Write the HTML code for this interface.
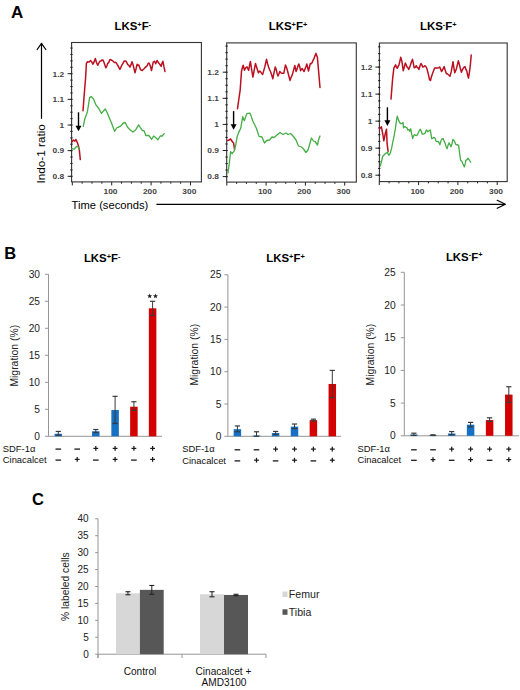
<!DOCTYPE html>
<html><head><meta charset="utf-8"><style>
html,body{margin:0;padding:0;background:#fff;}
svg{display:block;font-family:"Liberation Sans", sans-serif;}
</style></head><body>
<svg width="520" height="690" viewBox="0 0 520 690">
<rect width="520" height="690" fill="#fff"/>
<text x="11.00" y="17.50" font-size="17" text-anchor="start" font-weight="bold" fill="#000" >A</text>
<text x="132.80" y="30.10" font-size="11.4" font-weight="bold" text-anchor="middle">LKS<tspan font-size="7.4" dy="-3.4">+</tspan><tspan dy="3.4">F</tspan><tspan font-size="7.4" dy="-3.4">-</tspan></text>
<text x="288.00" y="30.10" font-size="11.4" font-weight="bold" text-anchor="middle">LKS<tspan font-size="7.4" dy="-3.4">+</tspan><tspan dy="3.4">F</tspan><tspan font-size="7.4" dy="-3.4">+</tspan></text>
<text x="438.30" y="30.10" font-size="11.4" font-weight="bold" text-anchor="middle">LKS<tspan font-size="7.4" dy="-3.4">-</tspan><tspan dy="3.4">F</tspan><tspan font-size="7.4" dy="-3.4">+</tspan></text>
<rect x="71.60" y="42.50" width="129.80" height="139.40" fill="none" stroke="#333" stroke-width="1.1"/>
<line x1="67.60" y1="73.70" x2="71.60" y2="73.70" stroke="#222" stroke-width="1" />
<text transform="translate(64.20,76.50) scale(1,0.78)" font-size="8.4" text-anchor="end" font-weight="bold" fill="#444">1.2</text>
<line x1="67.60" y1="99.35" x2="71.60" y2="99.35" stroke="#222" stroke-width="1" />
<text transform="translate(64.20,102.15) scale(1,0.78)" font-size="8.4" text-anchor="end" font-weight="bold" fill="#444">1.1</text>
<line x1="67.60" y1="125.00" x2="71.60" y2="125.00" stroke="#222" stroke-width="1" />
<text transform="translate(64.20,127.80) scale(1,0.78)" font-size="8.4" text-anchor="end" font-weight="bold" fill="#444">1</text>
<line x1="67.60" y1="150.65" x2="71.60" y2="150.65" stroke="#222" stroke-width="1" />
<text transform="translate(64.20,153.45) scale(1,0.78)" font-size="8.4" text-anchor="end" font-weight="bold" fill="#444">0.9</text>
<line x1="67.60" y1="176.30" x2="71.60" y2="176.30" stroke="#222" stroke-width="1" />
<text transform="translate(64.20,179.10) scale(1,0.78)" font-size="8.4" text-anchor="end" font-weight="bold" fill="#444">0.8</text>
<line x1="70.30" y1="176.30" x2="72.60" y2="176.30" stroke="#222" stroke-width="1.1" />
<line x1="70.30" y1="169.89" x2="72.60" y2="169.89" stroke="#222" stroke-width="1.1" />
<line x1="70.30" y1="163.47" x2="72.60" y2="163.47" stroke="#222" stroke-width="1.1" />
<line x1="70.30" y1="157.06" x2="72.60" y2="157.06" stroke="#222" stroke-width="1.1" />
<line x1="70.30" y1="150.65" x2="72.60" y2="150.65" stroke="#222" stroke-width="1.1" />
<line x1="70.30" y1="144.24" x2="72.60" y2="144.24" stroke="#222" stroke-width="1.1" />
<line x1="70.30" y1="137.82" x2="72.60" y2="137.82" stroke="#222" stroke-width="1.1" />
<line x1="70.30" y1="131.41" x2="72.60" y2="131.41" stroke="#222" stroke-width="1.1" />
<line x1="70.30" y1="125.00" x2="72.60" y2="125.00" stroke="#222" stroke-width="1.1" />
<line x1="70.30" y1="118.59" x2="72.60" y2="118.59" stroke="#222" stroke-width="1.1" />
<line x1="70.30" y1="112.17" x2="72.60" y2="112.17" stroke="#222" stroke-width="1.1" />
<line x1="70.30" y1="105.76" x2="72.60" y2="105.76" stroke="#222" stroke-width="1.1" />
<line x1="70.30" y1="99.35" x2="72.60" y2="99.35" stroke="#222" stroke-width="1.1" />
<line x1="70.30" y1="92.94" x2="72.60" y2="92.94" stroke="#222" stroke-width="1.1" />
<line x1="70.30" y1="86.53" x2="72.60" y2="86.53" stroke="#222" stroke-width="1.1" />
<line x1="70.30" y1="80.11" x2="72.60" y2="80.11" stroke="#222" stroke-width="1.1" />
<line x1="70.30" y1="73.70" x2="72.60" y2="73.70" stroke="#222" stroke-width="1.1" />
<line x1="70.30" y1="67.29" x2="72.60" y2="67.29" stroke="#222" stroke-width="1.1" />
<line x1="70.30" y1="60.88" x2="72.60" y2="60.88" stroke="#222" stroke-width="1.1" />
<line x1="70.30" y1="54.46" x2="72.60" y2="54.46" stroke="#222" stroke-width="1.1" />
<line x1="70.30" y1="48.05" x2="72.60" y2="48.05" stroke="#222" stroke-width="1.1" />
<line x1="72.30" y1="181.90" x2="72.30" y2="185.40" stroke="#222" stroke-width="1" />
<line x1="82.15" y1="181.90" x2="82.15" y2="183.70" stroke="#222" stroke-width="1" />
<line x1="92.00" y1="181.90" x2="92.00" y2="183.70" stroke="#222" stroke-width="1" />
<line x1="101.85" y1="181.90" x2="101.85" y2="183.70" stroke="#222" stroke-width="1" />
<line x1="111.70" y1="181.90" x2="111.70" y2="185.40" stroke="#222" stroke-width="1" />
<text transform="translate(110.50,193.90) scale(1,0.78)" font-size="8.4" text-anchor="middle" font-weight="bold" fill="#444">100</text>
<line x1="121.55" y1="181.90" x2="121.55" y2="183.70" stroke="#222" stroke-width="1" />
<line x1="131.40" y1="181.90" x2="131.40" y2="183.70" stroke="#222" stroke-width="1" />
<line x1="141.25" y1="181.90" x2="141.25" y2="183.70" stroke="#222" stroke-width="1" />
<line x1="151.10" y1="181.90" x2="151.10" y2="185.40" stroke="#222" stroke-width="1" />
<text transform="translate(149.90,193.90) scale(1,0.78)" font-size="8.4" text-anchor="middle" font-weight="bold" fill="#444">200</text>
<line x1="160.95" y1="181.90" x2="160.95" y2="183.70" stroke="#222" stroke-width="1" />
<line x1="170.80" y1="181.90" x2="170.80" y2="183.70" stroke="#222" stroke-width="1" />
<line x1="180.65" y1="181.90" x2="180.65" y2="183.70" stroke="#222" stroke-width="1" />
<line x1="190.50" y1="181.90" x2="190.50" y2="185.40" stroke="#222" stroke-width="1" />
<text transform="translate(189.30,193.90) scale(1,0.78)" font-size="8.4" text-anchor="middle" font-weight="bold" fill="#444">300</text>
<rect x="226.70" y="42.90" width="129.60" height="139.20" fill="none" stroke="#333" stroke-width="1.1"/>
<line x1="222.70" y1="72.20" x2="226.70" y2="72.20" stroke="#222" stroke-width="1" />
<text transform="translate(219.00,75.00) scale(1,0.78)" font-size="8.4" text-anchor="end" font-weight="bold" fill="#444">1.2</text>
<line x1="222.70" y1="98.30" x2="226.70" y2="98.30" stroke="#222" stroke-width="1" />
<text transform="translate(219.00,101.10) scale(1,0.78)" font-size="8.4" text-anchor="end" font-weight="bold" fill="#444">1.1</text>
<line x1="222.70" y1="124.40" x2="226.70" y2="124.40" stroke="#222" stroke-width="1" />
<text transform="translate(219.00,127.20) scale(1,0.78)" font-size="8.4" text-anchor="end" font-weight="bold" fill="#444">1</text>
<line x1="222.70" y1="150.50" x2="226.70" y2="150.50" stroke="#222" stroke-width="1" />
<text transform="translate(219.00,153.30) scale(1,0.78)" font-size="8.4" text-anchor="end" font-weight="bold" fill="#444">0.9</text>
<line x1="222.70" y1="176.60" x2="226.70" y2="176.60" stroke="#222" stroke-width="1" />
<text transform="translate(219.00,179.40) scale(1,0.78)" font-size="8.4" text-anchor="end" font-weight="bold" fill="#444">0.8</text>
<line x1="225.40" y1="176.60" x2="227.70" y2="176.60" stroke="#222" stroke-width="1.1" />
<line x1="225.40" y1="170.07" x2="227.70" y2="170.07" stroke="#222" stroke-width="1.1" />
<line x1="225.40" y1="163.55" x2="227.70" y2="163.55" stroke="#222" stroke-width="1.1" />
<line x1="225.40" y1="157.02" x2="227.70" y2="157.02" stroke="#222" stroke-width="1.1" />
<line x1="225.40" y1="150.50" x2="227.70" y2="150.50" stroke="#222" stroke-width="1.1" />
<line x1="225.40" y1="143.97" x2="227.70" y2="143.97" stroke="#222" stroke-width="1.1" />
<line x1="225.40" y1="137.45" x2="227.70" y2="137.45" stroke="#222" stroke-width="1.1" />
<line x1="225.40" y1="130.92" x2="227.70" y2="130.92" stroke="#222" stroke-width="1.1" />
<line x1="225.40" y1="124.40" x2="227.70" y2="124.40" stroke="#222" stroke-width="1.1" />
<line x1="225.40" y1="117.87" x2="227.70" y2="117.87" stroke="#222" stroke-width="1.1" />
<line x1="225.40" y1="111.35" x2="227.70" y2="111.35" stroke="#222" stroke-width="1.1" />
<line x1="225.40" y1="104.82" x2="227.70" y2="104.82" stroke="#222" stroke-width="1.1" />
<line x1="225.40" y1="98.30" x2="227.70" y2="98.30" stroke="#222" stroke-width="1.1" />
<line x1="225.40" y1="91.78" x2="227.70" y2="91.78" stroke="#222" stroke-width="1.1" />
<line x1="225.40" y1="85.25" x2="227.70" y2="85.25" stroke="#222" stroke-width="1.1" />
<line x1="225.40" y1="78.73" x2="227.70" y2="78.73" stroke="#222" stroke-width="1.1" />
<line x1="225.40" y1="72.20" x2="227.70" y2="72.20" stroke="#222" stroke-width="1.1" />
<line x1="225.40" y1="65.68" x2="227.70" y2="65.68" stroke="#222" stroke-width="1.1" />
<line x1="225.40" y1="59.15" x2="227.70" y2="59.15" stroke="#222" stroke-width="1.1" />
<line x1="225.40" y1="52.63" x2="227.70" y2="52.63" stroke="#222" stroke-width="1.1" />
<line x1="225.40" y1="46.10" x2="227.70" y2="46.10" stroke="#222" stroke-width="1.1" />
<line x1="226.80" y1="182.10" x2="226.80" y2="185.60" stroke="#222" stroke-width="1" />
<line x1="236.62" y1="182.10" x2="236.62" y2="183.90" stroke="#222" stroke-width="1" />
<line x1="246.45" y1="182.10" x2="246.45" y2="183.90" stroke="#222" stroke-width="1" />
<line x1="256.28" y1="182.10" x2="256.28" y2="183.90" stroke="#222" stroke-width="1" />
<line x1="266.10" y1="182.10" x2="266.10" y2="185.60" stroke="#222" stroke-width="1" />
<text transform="translate(264.90,194.10) scale(1,0.78)" font-size="8.4" text-anchor="middle" font-weight="bold" fill="#444">100</text>
<line x1="275.93" y1="182.10" x2="275.93" y2="183.90" stroke="#222" stroke-width="1" />
<line x1="285.75" y1="182.10" x2="285.75" y2="183.90" stroke="#222" stroke-width="1" />
<line x1="295.58" y1="182.10" x2="295.58" y2="183.90" stroke="#222" stroke-width="1" />
<line x1="305.40" y1="182.10" x2="305.40" y2="185.60" stroke="#222" stroke-width="1" />
<text transform="translate(304.20,194.10) scale(1,0.78)" font-size="8.4" text-anchor="middle" font-weight="bold" fill="#444">200</text>
<line x1="315.23" y1="182.10" x2="315.23" y2="183.90" stroke="#222" stroke-width="1" />
<line x1="325.05" y1="182.10" x2="325.05" y2="183.90" stroke="#222" stroke-width="1" />
<line x1="334.88" y1="182.10" x2="334.88" y2="183.90" stroke="#222" stroke-width="1" />
<line x1="344.70" y1="182.10" x2="344.70" y2="185.60" stroke="#222" stroke-width="1" />
<text transform="translate(343.50,194.10) scale(1,0.78)" font-size="8.4" text-anchor="middle" font-weight="bold" fill="#444">300</text>
<rect x="379.40" y="43.00" width="127.80" height="138.60" fill="none" stroke="#333" stroke-width="1.1"/>
<line x1="375.40" y1="67.10" x2="379.40" y2="67.10" stroke="#222" stroke-width="1" />
<text transform="translate(372.30,69.90) scale(1,0.78)" font-size="8.4" text-anchor="end" font-weight="bold" fill="#444">1.2</text>
<line x1="375.40" y1="94.12" x2="379.40" y2="94.12" stroke="#222" stroke-width="1" />
<text transform="translate(372.30,96.92) scale(1,0.78)" font-size="8.4" text-anchor="end" font-weight="bold" fill="#444">1.1</text>
<line x1="375.40" y1="121.15" x2="379.40" y2="121.15" stroke="#222" stroke-width="1" />
<text transform="translate(372.30,123.95) scale(1,0.78)" font-size="8.4" text-anchor="end" font-weight="bold" fill="#444">1</text>
<line x1="375.40" y1="148.17" x2="379.40" y2="148.17" stroke="#222" stroke-width="1" />
<text transform="translate(372.30,150.97) scale(1,0.78)" font-size="8.4" text-anchor="end" font-weight="bold" fill="#444">0.9</text>
<line x1="375.40" y1="175.20" x2="379.40" y2="175.20" stroke="#222" stroke-width="1" />
<text transform="translate(372.30,178.00) scale(1,0.78)" font-size="8.4" text-anchor="end" font-weight="bold" fill="#444">0.8</text>
<line x1="378.10" y1="175.20" x2="380.40" y2="175.20" stroke="#222" stroke-width="1.1" />
<line x1="378.10" y1="168.44" x2="380.40" y2="168.44" stroke="#222" stroke-width="1.1" />
<line x1="378.10" y1="161.69" x2="380.40" y2="161.69" stroke="#222" stroke-width="1.1" />
<line x1="378.10" y1="154.93" x2="380.40" y2="154.93" stroke="#222" stroke-width="1.1" />
<line x1="378.10" y1="148.17" x2="380.40" y2="148.17" stroke="#222" stroke-width="1.1" />
<line x1="378.10" y1="141.42" x2="380.40" y2="141.42" stroke="#222" stroke-width="1.1" />
<line x1="378.10" y1="134.66" x2="380.40" y2="134.66" stroke="#222" stroke-width="1.1" />
<line x1="378.10" y1="127.91" x2="380.40" y2="127.91" stroke="#222" stroke-width="1.1" />
<line x1="378.10" y1="121.15" x2="380.40" y2="121.15" stroke="#222" stroke-width="1.1" />
<line x1="378.10" y1="114.39" x2="380.40" y2="114.39" stroke="#222" stroke-width="1.1" />
<line x1="378.10" y1="107.64" x2="380.40" y2="107.64" stroke="#222" stroke-width="1.1" />
<line x1="378.10" y1="100.88" x2="380.40" y2="100.88" stroke="#222" stroke-width="1.1" />
<line x1="378.10" y1="94.13" x2="380.40" y2="94.13" stroke="#222" stroke-width="1.1" />
<line x1="378.10" y1="87.37" x2="380.40" y2="87.37" stroke="#222" stroke-width="1.1" />
<line x1="378.10" y1="80.61" x2="380.40" y2="80.61" stroke="#222" stroke-width="1.1" />
<line x1="378.10" y1="73.86" x2="380.40" y2="73.86" stroke="#222" stroke-width="1.1" />
<line x1="378.10" y1="67.10" x2="380.40" y2="67.10" stroke="#222" stroke-width="1.1" />
<line x1="378.10" y1="60.34" x2="380.40" y2="60.34" stroke="#222" stroke-width="1.1" />
<line x1="378.10" y1="53.59" x2="380.40" y2="53.59" stroke="#222" stroke-width="1.1" />
<line x1="378.10" y1="46.83" x2="380.40" y2="46.83" stroke="#222" stroke-width="1.1" />
<line x1="379.30" y1="181.60" x2="379.30" y2="185.10" stroke="#222" stroke-width="1" />
<line x1="389.12" y1="181.60" x2="389.12" y2="183.40" stroke="#222" stroke-width="1" />
<line x1="398.95" y1="181.60" x2="398.95" y2="183.40" stroke="#222" stroke-width="1" />
<line x1="408.78" y1="181.60" x2="408.78" y2="183.40" stroke="#222" stroke-width="1" />
<line x1="418.60" y1="181.60" x2="418.60" y2="185.10" stroke="#222" stroke-width="1" />
<text transform="translate(417.40,193.60) scale(1,0.78)" font-size="8.4" text-anchor="middle" font-weight="bold" fill="#444">100</text>
<line x1="428.43" y1="181.60" x2="428.43" y2="183.40" stroke="#222" stroke-width="1" />
<line x1="438.25" y1="181.60" x2="438.25" y2="183.40" stroke="#222" stroke-width="1" />
<line x1="448.08" y1="181.60" x2="448.08" y2="183.40" stroke="#222" stroke-width="1" />
<line x1="457.90" y1="181.60" x2="457.90" y2="185.10" stroke="#222" stroke-width="1" />
<text transform="translate(456.70,193.60) scale(1,0.78)" font-size="8.4" text-anchor="middle" font-weight="bold" fill="#444">200</text>
<line x1="467.73" y1="181.60" x2="467.73" y2="183.40" stroke="#222" stroke-width="1" />
<line x1="477.55" y1="181.60" x2="477.55" y2="183.40" stroke="#222" stroke-width="1" />
<line x1="487.38" y1="181.60" x2="487.38" y2="183.40" stroke="#222" stroke-width="1" />
<line x1="497.20" y1="181.60" x2="497.20" y2="185.10" stroke="#222" stroke-width="1" />
<text transform="translate(496.00,193.60) scale(1,0.78)" font-size="8.4" text-anchor="middle" font-weight="bold" fill="#444">300</text>
<polyline points="71.80,142.20 73.30,140.00 74.90,141.10 76.00,139.50 77.60,143.30 79.20,148.70 80.30,159.60" fill="none" stroke="#bb1020" stroke-width="1.5" stroke-linejoin="round" stroke-linecap="round" />
<polyline points="71.80,148.70 74.30,149.20 76.50,146.50 78.20,147.00 79.20,149.20" fill="none" stroke="#44ad44" stroke-width="1.3" stroke-linejoin="round" stroke-linecap="round" />
<polyline points="83.00,110.70 84.20,95.00 85.60,77.80 86.40,63.30 87.60,61.70 88.40,62.01 89.20,62.10 90.50,60.50 91.70,61.87 92.90,64.10 94.10,61.95 95.30,58.50 96.50,62.49 97.70,65.30 98.75,63.25 99.80,61.30 100.87,61.13 101.93,60.10 103.00,60.10 103.93,62.28 104.87,64.94 105.80,67.80 106.80,66.04 107.80,63.35 108.80,62.38 109.80,59.70 110.72,59.60 111.65,60.27 112.58,60.62 113.50,61.70 114.43,62.48 115.37,62.31 116.30,62.90 117.20,64.49 118.10,65.91 119.00,67.97 119.90,69.40 120.87,67.37 121.83,65.19 122.80,63.70 124.00,61.30 124.85,61.00 125.70,60.90 126.75,62.53 127.80,64.70 128.85,65.41 129.90,67.20 130.95,64.90 132.00,61.70 133.30,65.50 134.15,69.35 135.00,72.70 136.05,68.73 137.10,64.30 137.95,65.24 138.80,65.10 139.65,67.30 140.50,69.80 141.35,70.03 142.20,70.60 143.25,69.44 144.30,68.50 145.35,67.32 146.40,66.40 147.27,65.50 148.13,63.44 149.00,63.00 150.20,65.50 151.50,70.60 152.35,66.35 153.20,62.20 154.50,61.30 155.70,63.80 157.00,60.50 157.85,61.80 158.70,63.00 159.95,64.48 161.20,66.40 162.05,63.18 162.90,61.30 163.95,66.69 165.00,71.50" fill="none" stroke="#bb1020" stroke-width="1.5" stroke-linejoin="round" stroke-linecap="round" />
<polyline points="83.30,126.40 84.70,119.30 87.40,111.70 89.60,97.60 91.20,96.50 93.40,98.70 96.10,105.20 98.80,108.50 101.50,113.40 103.70,110.70 105.30,109.00 107.50,113.40 111.30,122.60 114.60,131.30 116.70,128.00 118.00,127.30 120.90,125.90 123.30,123.00 125.20,122.50 127.60,127.30 130.00,129.70 132.90,132.10 135.80,129.70 138.70,124.90 141.10,128.75 142.50,130.70 144.00,130.70 145.90,135.50 148.80,135.50 151.70,139.30 153.60,136.00 155.50,137.40 157.90,139.80 160.30,136.00 162.20,136.00 164.20,133.60" fill="none" stroke="#44ad44" stroke-width="1.3" stroke-linejoin="round" stroke-linecap="round" />
<polyline points="227.50,140.50 229.00,140.00 230.60,139.00 232.60,142.00 233.60,143.00 234.60,149.60" fill="none" stroke="#bb1020" stroke-width="1.5" stroke-linejoin="round" stroke-linecap="round" />
<polyline points="237.50,108.70 238.25,103.35 239.00,98.00 240.20,89.80 241.50,71.20 242.35,67.71 243.20,65.20 244.50,70.30 245.70,67.80 247.00,66.90 247.85,68.76 248.70,70.30 249.55,65.39 250.40,61.40 251.65,69.55 252.90,77.10 253.77,72.72 254.63,67.87 255.50,63.50 256.47,66.76 257.43,69.79 258.40,72.80 259.25,71.36 260.10,71.20 261.35,72.89 262.60,74.50 263.70,70.87 264.80,66.90 265.65,63.13 266.50,59.30 267.55,63.63 268.60,66.90 269.65,69.78 270.70,72.00 271.75,75.23 272.80,78.80 274.05,72.47 275.30,66.90 276.20,69.41 277.10,73.40 278.00,76.00 278.90,74.02 279.80,71.50 280.65,72.55 281.50,73.30 282.65,73.22 283.80,73.30 284.65,69.10 285.50,64.90 286.60,67.81 287.70,71.50 288.85,75.99 290.00,80.40 291.10,77.25 292.20,75.10 293.07,72.04 293.93,68.82 294.80,65.40 296.10,71.50 297.00,69.24 297.90,66.15 298.80,64.00 299.70,66.78 300.60,70.70 301.45,69.37 302.30,68.50 303.20,70.26 304.10,71.50 305.00,69.01 305.90,66.85 306.80,64.00 307.65,67.45 308.50,71.10 309.40,67.21 310.30,63.60 311.20,63.72 312.10,62.70 312.95,60.48 313.80,59.20 314.90,55.89 316.00,53.40 317.40,57.40 318.70,72.40 320.00,87.50" fill="none" stroke="#bb1020" stroke-width="1.5" stroke-linejoin="round" stroke-linecap="round" />
<polyline points="228.00,173.00 229.50,161.80 230.60,151.70 232.10,153.70 234.10,151.10 235.60,145.60 237.20,136.40 238.70,132.40 240.70,128.30 242.70,116.70 244.30,120.70 246.80,113.60 249.80,113.10 250.80,115.10 252.90,121.20 256.40,128.30 259.00,136.40 262.00,137.00 264.50,143.00 266.60,140.50 269.60,140.00 272.00,137.00 274.00,137.50 277.00,135.00 280.00,132.50 283.00,134.50 286.00,133.00 288.00,134.50 290.50,133.50 293.00,136.00 296.00,140.00 298.50,146.00 301.50,147.00 303.50,149.00 306.00,152.50 308.00,150.00 310.00,143.00 311.50,138.00 313.50,141.00 315.00,141.50 317.50,145.00 318.50,140.00 320.00,136.00" fill="none" stroke="#44ad44" stroke-width="1.3" stroke-linejoin="round" stroke-linecap="round" />
<polyline points="379.60,128.75 381.40,126.80 382.80,134.00 383.80,140.80 385.20,134.00 386.50,129.20 387.10,143.70 388.10,151.30" fill="none" stroke="#bb1020" stroke-width="1.5" stroke-linejoin="round" stroke-linecap="round" />
<polyline points="391.00,99.10 391.85,88.50 392.70,77.90 393.90,67.80 394.75,66.30 395.60,64.80 396.45,67.17 397.30,68.20 398.15,66.44 399.00,64.80 399.85,61.31 400.70,57.20 402.00,61.80 403.20,70.70 404.25,67.23 405.30,63.10 406.15,64.60 407.00,66.90 407.85,67.61 408.70,69.50 409.55,67.49 410.40,65.20 411.45,61.72 412.50,59.30 413.35,63.39 414.20,67.80 415.25,67.30 416.30,65.70 417.17,67.49 418.03,67.70 418.90,69.50 419.95,65.92 421.00,63.50 421.85,64.81 422.70,66.90 423.75,66.76 424.80,65.70 425.85,66.48 426.90,68.60 427.77,71.88 428.63,75.38 429.50,79.60 430.50,80.50 431.35,76.98 432.20,74.50 433.30,71.48 434.40,68.40 435.30,67.79 436.20,67.94 437.10,67.90 437.97,67.93 438.83,67.61 439.70,67.00 440.60,69.13 441.50,71.50 442.40,70.27 443.30,68.33 444.20,66.60 445.30,70.61 446.40,73.70 447.25,73.75 448.10,74.50 449.00,75.22 449.90,76.30 451.20,71.90 452.10,66.91 453.00,61.70 453.90,67.87 454.80,72.80 455.65,70.77 456.50,68.40 457.40,64.56 458.30,60.80 459.20,63.80 460.10,67.50 461.40,72.30 462.30,70.04 463.20,68.40 464.10,67.10 465.00,66.60 465.85,69.28 466.70,70.60 467.60,74.89 468.50,78.10 469.40,72.45 470.30,65.70 471.20,55.10" fill="none" stroke="#bb1020" stroke-width="1.5" stroke-linejoin="round" stroke-linecap="round" />
<polyline points="380.40,165.80 381.60,161.00 382.80,156.20 383.77,155.23 384.73,154.27 385.70,153.30 386.65,152.80 387.60,152.30 388.60,155.20 389.55,154.67 390.50,152.30 391.70,147.74 392.90,141.70 394.10,135.91 395.30,129.20 396.25,122.18 397.20,116.25 397.95,118.09 398.70,120.60 399.65,122.48 400.60,123.50 401.80,123.61 403.00,122.50 403.50,127.80 404.70,126.58 405.90,127.30 406.85,127.61 407.80,130.04 408.75,129.46 409.70,131.20 410.70,128.75 411.65,133.89 412.60,138.40 413.55,136.11 414.50,134.50 415.50,135.29 416.50,135.50 417.45,134.65 418.40,132.51 419.35,130.56 420.30,129.20 421.25,131.24 422.20,134.00 423.13,134.01 424.07,133.79 425.00,133.30 426.40,129.90 427.15,130.67 427.90,131.80 429.10,130.78 430.30,129.90 431.70,138.60 432.67,138.34 433.63,137.45 434.60,137.60 435.35,138.86 436.10,141.40 437.30,141.54 438.50,141.40 439.90,144.80 440.85,141.10 441.80,139.00 442.55,139.00 443.30,138.60 444.25,141.60 445.20,143.40 446.15,146.71 447.10,148.70 448.05,145.30 449.00,142.90 450.00,144.63 451.00,146.70 451.95,143.95 452.90,139.50 453.85,140.40 454.80,141.90 455.75,144.33 456.70,144.80 457.70,144.70 458.70,145.80 459.65,153.68 460.60,160.20 461.80,161.18 463.00,164.00 464.40,166.90 465.15,163.89 465.90,160.20 466.85,159.86 467.80,158.30 469.20,159.70 469.95,161.00 470.70,162.10" fill="none" stroke="#44ad44" stroke-width="1.3" stroke-linejoin="round" stroke-linecap="round" />
<line x1="78.50" y1="112.30" x2="78.50" y2="127.30" stroke="#000" stroke-width="1.4" />
<polygon points="75.50,125.70 81.50,125.70 78.50,131.30" fill="#000"/>
<line x1="233.60" y1="111.10" x2="233.60" y2="125.80" stroke="#000" stroke-width="1.4" />
<polygon points="230.60,124.20 236.60,124.20 233.60,129.80" fill="#000"/>
<line x1="387.40" y1="107.30" x2="387.40" y2="121.90" stroke="#000" stroke-width="1.4" />
<polygon points="384.40,120.30 390.40,120.30 387.40,125.90" fill="#000"/>
<line x1="41.50" y1="43.50" x2="41.50" y2="118.80" stroke="#000" stroke-width="1.2" />
<polyline points="37.20,49.50 41.50,43.30 45.80,49.50" fill="none" stroke="#000" stroke-width="1.2" stroke-linejoin="round" stroke-linecap="round" stroke-linecap="butt"/>
<text transform="translate(45.4,183.4) rotate(-90)" font-size="11.7" fill="#000">Indo-1 ratio</text>
<text x="71.60" y="208.70" font-size="11.2" text-anchor="start" font-weight="normal" fill="#000" >Time (seconds)</text>
<line x1="156.40" y1="204.30" x2="505.00" y2="204.30" stroke="#000" stroke-width="1.2" />
<polyline points="497.20,200.30 505.40,204.30 497.20,208.30" fill="none" stroke="#000" stroke-width="1.2" stroke-linejoin="round" stroke-linecap="round" stroke-linecap="butt"/>
<text x="4.30" y="259.10" font-size="16.5" text-anchor="start" font-weight="bold" fill="#000" >B</text>
<text x="102.20" y="262.40" font-size="11.4" font-weight="bold" text-anchor="middle">LKS<tspan font-size="7.4" dy="-3.4">+</tspan><tspan dy="3.4">F</tspan><tspan font-size="7.4" dy="-3.4">-</tspan></text>
<text x="285.50" y="262.40" font-size="11.4" font-weight="bold" text-anchor="middle">LKS<tspan font-size="7.4" dy="-3.4">+</tspan><tspan dy="3.4">F</tspan><tspan font-size="7.4" dy="-3.4">+</tspan></text>
<text x="464.20" y="260.80" font-size="11.4" font-weight="bold" text-anchor="middle">LKS<tspan font-size="7.4" dy="-3.4">-</tspan><tspan dy="3.4">F</tspan><tspan font-size="7.4" dy="-3.4">+</tspan></text>
<line x1="48.50" y1="274.30" x2="48.50" y2="436.30" stroke="#959595" stroke-width="1" />
<line x1="48.50" y1="436.30" x2="162.00" y2="436.30" stroke="#959595" stroke-width="1" />
<line x1="45.00" y1="436.30" x2="48.50" y2="436.30" stroke="#959595" stroke-width="1" />
<text x="40.00" y="439.90" font-size="10.2" text-anchor="end" font-weight="normal" fill="#222" >0</text>
<line x1="45.00" y1="409.30" x2="48.50" y2="409.30" stroke="#959595" stroke-width="1" />
<text x="40.00" y="412.90" font-size="10.2" text-anchor="end" font-weight="normal" fill="#222" >5</text>
<line x1="45.00" y1="382.30" x2="48.50" y2="382.30" stroke="#959595" stroke-width="1" />
<text x="40.00" y="385.90" font-size="10.2" text-anchor="end" font-weight="normal" fill="#222" >10</text>
<line x1="45.00" y1="355.30" x2="48.50" y2="355.30" stroke="#959595" stroke-width="1" />
<text x="40.00" y="358.90" font-size="10.2" text-anchor="end" font-weight="normal" fill="#222" >15</text>
<line x1="45.00" y1="328.30" x2="48.50" y2="328.30" stroke="#959595" stroke-width="1" />
<text x="40.00" y="331.90" font-size="10.2" text-anchor="end" font-weight="normal" fill="#222" >20</text>
<line x1="45.00" y1="301.30" x2="48.50" y2="301.30" stroke="#959595" stroke-width="1" />
<text x="40.00" y="304.90" font-size="10.2" text-anchor="end" font-weight="normal" fill="#222" >25</text>
<line x1="45.00" y1="274.30" x2="48.50" y2="274.30" stroke="#959595" stroke-width="1" />
<text x="40.00" y="277.90" font-size="10.2" text-anchor="end" font-weight="normal" fill="#222" >30</text>
<rect x="54.55" y="433.76" width="7.50" height="2.54" fill="#1670c4" />
<line x1="58.30" y1="431.44" x2="58.30" y2="435.22" stroke="#3a3a3a" stroke-width="1" />
<line x1="55.70" y1="431.44" x2="60.90" y2="431.44" stroke="#3a3a3a" stroke-width="1.2" />
<line x1="55.70" y1="435.22" x2="60.90" y2="435.22" stroke="#3a3a3a" stroke-width="1.2" />
<rect x="92.05" y="431.28" width="7.50" height="5.02" fill="#1670c4" />
<line x1="95.80" y1="429.50" x2="95.80" y2="432.52" stroke="#3a3a3a" stroke-width="1" />
<line x1="93.20" y1="429.50" x2="98.40" y2="429.50" stroke="#3a3a3a" stroke-width="1.2" />
<line x1="93.20" y1="432.52" x2="98.40" y2="432.52" stroke="#3a3a3a" stroke-width="1.2" />
<rect x="111.35" y="410.00" width="7.50" height="26.30" fill="#1670c4" />
<line x1="115.10" y1="396.34" x2="115.10" y2="423.50" stroke="#3a3a3a" stroke-width="1" />
<line x1="112.50" y1="396.34" x2="117.70" y2="396.34" stroke="#3a3a3a" stroke-width="1.2" />
<line x1="112.50" y1="423.50" x2="117.70" y2="423.50" stroke="#3a3a3a" stroke-width="1.2" />
<rect x="130.15" y="406.71" width="7.50" height="29.59" fill="#d40000" />
<line x1="133.90" y1="401.74" x2="133.90" y2="410.38" stroke="#3a3a3a" stroke-width="1" />
<line x1="131.30" y1="401.74" x2="136.50" y2="401.74" stroke="#3a3a3a" stroke-width="1.2" />
<line x1="131.30" y1="410.38" x2="136.50" y2="410.38" stroke="#3a3a3a" stroke-width="1.2" />
<rect x="148.85" y="308.32" width="7.50" height="127.98" fill="#d40000" />
<line x1="152.60" y1="301.30" x2="152.60" y2="315.34" stroke="#3a3a3a" stroke-width="1" />
<line x1="150.00" y1="301.30" x2="155.20" y2="301.30" stroke="#3a3a3a" stroke-width="1.2" />
<line x1="150.00" y1="315.34" x2="155.20" y2="315.34" stroke="#3a3a3a" stroke-width="1.2" />
<text transform="translate(17.60,355.70) rotate(-90)" font-size="10.4" text-anchor="middle" fill="#222">Migration (%)</text>
<polygon points="149.70,293.60 150.35,295.31 152.17,295.40 150.75,296.54 151.23,298.30 149.70,297.30 148.17,298.30 148.65,296.54 147.23,295.40 149.05,295.31" fill="#1a1a1a"/>
<polygon points="155.50,293.60 156.15,295.31 157.97,295.40 156.55,296.54 157.03,298.30 155.50,297.30 153.97,298.30 154.45,296.54 153.03,295.40 154.85,295.31" fill="#1a1a1a"/>
<line x1="227.90" y1="274.80" x2="227.90" y2="436.30" stroke="#959595" stroke-width="1" />
<line x1="227.90" y1="436.30" x2="341.00" y2="436.30" stroke="#959595" stroke-width="1" />
<line x1="224.40" y1="436.30" x2="227.90" y2="436.30" stroke="#959595" stroke-width="1" />
<text x="221.40" y="439.90" font-size="10.2" text-anchor="end" font-weight="normal" fill="#222" >0</text>
<line x1="224.40" y1="404.00" x2="227.90" y2="404.00" stroke="#959595" stroke-width="1" />
<text x="221.40" y="407.60" font-size="10.2" text-anchor="end" font-weight="normal" fill="#222" >5</text>
<line x1="224.40" y1="371.70" x2="227.90" y2="371.70" stroke="#959595" stroke-width="1" />
<text x="221.40" y="375.30" font-size="10.2" text-anchor="end" font-weight="normal" fill="#222" >10</text>
<line x1="224.40" y1="339.40" x2="227.90" y2="339.40" stroke="#959595" stroke-width="1" />
<text x="221.40" y="343.00" font-size="10.2" text-anchor="end" font-weight="normal" fill="#222" >15</text>
<line x1="224.40" y1="307.10" x2="227.90" y2="307.10" stroke="#959595" stroke-width="1" />
<text x="221.40" y="310.70" font-size="10.2" text-anchor="end" font-weight="normal" fill="#222" >20</text>
<line x1="224.40" y1="274.80" x2="227.90" y2="274.80" stroke="#959595" stroke-width="1" />
<text x="221.40" y="278.40" font-size="10.2" text-anchor="end" font-weight="normal" fill="#222" >25</text>
<rect x="233.65" y="429.19" width="7.50" height="7.11" fill="#1670c4" />
<line x1="237.40" y1="425.96" x2="237.40" y2="431.78" stroke="#3a3a3a" stroke-width="1" />
<line x1="234.80" y1="425.96" x2="240.00" y2="425.96" stroke="#3a3a3a" stroke-width="1.2" />
<line x1="234.80" y1="431.78" x2="240.00" y2="431.78" stroke="#3a3a3a" stroke-width="1.2" />
<rect x="252.75" y="435.52" width="7.50" height="0.78" fill="#1670c4" />
<line x1="256.50" y1="431.78" x2="256.50" y2="436.30" stroke="#3a3a3a" stroke-width="1" />
<line x1="253.90" y1="431.78" x2="259.10" y2="431.78" stroke="#3a3a3a" stroke-width="1.2" />
<line x1="253.90" y1="436.30" x2="259.10" y2="436.30" stroke="#3a3a3a" stroke-width="1.2" />
<rect x="271.85" y="433.07" width="7.50" height="3.23" fill="#1670c4" />
<line x1="275.60" y1="431.45" x2="275.60" y2="434.36" stroke="#3a3a3a" stroke-width="1" />
<line x1="273.00" y1="431.45" x2="278.20" y2="431.45" stroke="#3a3a3a" stroke-width="1.2" />
<line x1="273.00" y1="434.36" x2="278.20" y2="434.36" stroke="#3a3a3a" stroke-width="1.2" />
<rect x="290.75" y="426.61" width="7.50" height="9.69" fill="#1670c4" />
<line x1="294.50" y1="424.03" x2="294.50" y2="428.55" stroke="#3a3a3a" stroke-width="1" />
<line x1="291.90" y1="424.03" x2="297.10" y2="424.03" stroke="#3a3a3a" stroke-width="1.2" />
<line x1="291.90" y1="428.55" x2="297.10" y2="428.55" stroke="#3a3a3a" stroke-width="1.2" />
<rect x="309.65" y="420.15" width="7.50" height="16.15" fill="#d40000" />
<line x1="313.40" y1="419.18" x2="313.40" y2="421.12" stroke="#3a3a3a" stroke-width="1" />
<line x1="310.80" y1="419.18" x2="316.00" y2="419.18" stroke="#3a3a3a" stroke-width="1.2" />
<line x1="310.80" y1="421.12" x2="316.00" y2="421.12" stroke="#3a3a3a" stroke-width="1.2" />
<rect x="328.55" y="383.97" width="7.50" height="52.33" fill="#d40000" />
<line x1="332.30" y1="370.41" x2="332.30" y2="397.54" stroke="#3a3a3a" stroke-width="1" />
<line x1="329.70" y1="370.41" x2="334.90" y2="370.41" stroke="#3a3a3a" stroke-width="1.2" />
<line x1="329.70" y1="397.54" x2="334.90" y2="397.54" stroke="#3a3a3a" stroke-width="1.2" />
<text transform="translate(197.60,354.70) rotate(-90)" font-size="10.4" text-anchor="middle" fill="#222">Migration (%)</text>
<line x1="404.30" y1="272.30" x2="404.30" y2="435.80" stroke="#959595" stroke-width="1" />
<line x1="404.30" y1="435.80" x2="519.00" y2="435.80" stroke="#959595" stroke-width="1" />
<line x1="400.80" y1="435.80" x2="404.30" y2="435.80" stroke="#959595" stroke-width="1" />
<text x="395.60" y="439.40" font-size="10.2" text-anchor="end" font-weight="normal" fill="#222" >0</text>
<line x1="400.80" y1="403.10" x2="404.30" y2="403.10" stroke="#959595" stroke-width="1" />
<text x="395.60" y="406.70" font-size="10.2" text-anchor="end" font-weight="normal" fill="#222" >5</text>
<line x1="400.80" y1="370.40" x2="404.30" y2="370.40" stroke="#959595" stroke-width="1" />
<text x="395.60" y="374.00" font-size="10.2" text-anchor="end" font-weight="normal" fill="#222" >10</text>
<line x1="400.80" y1="337.70" x2="404.30" y2="337.70" stroke="#959595" stroke-width="1" />
<text x="395.60" y="341.30" font-size="10.2" text-anchor="end" font-weight="normal" fill="#222" >15</text>
<line x1="400.80" y1="305.00" x2="404.30" y2="305.00" stroke="#959595" stroke-width="1" />
<text x="395.60" y="308.60" font-size="10.2" text-anchor="end" font-weight="normal" fill="#222" >20</text>
<line x1="400.80" y1="272.30" x2="404.30" y2="272.30" stroke="#959595" stroke-width="1" />
<text x="395.60" y="275.90" font-size="10.2" text-anchor="end" font-weight="normal" fill="#222" >25</text>
<rect x="410.15" y="434.49" width="7.50" height="1.31" fill="#1670c4" />
<line x1="413.90" y1="433.18" x2="413.90" y2="435.47" stroke="#3a3a3a" stroke-width="1" />
<line x1="411.30" y1="433.18" x2="416.50" y2="433.18" stroke="#3a3a3a" stroke-width="1.2" />
<line x1="411.30" y1="435.47" x2="416.50" y2="435.47" stroke="#3a3a3a" stroke-width="1.2" />
<rect x="429.25" y="435.15" width="7.50" height="0.65" fill="#1670c4" />
<line x1="433.00" y1="434.82" x2="433.00" y2="435.47" stroke="#3a3a3a" stroke-width="1" />
<line x1="430.40" y1="434.82" x2="435.60" y2="434.82" stroke="#3a3a3a" stroke-width="1.2" />
<line x1="430.40" y1="435.47" x2="435.60" y2="435.47" stroke="#3a3a3a" stroke-width="1.2" />
<rect x="447.95" y="433.51" width="7.50" height="2.29" fill="#1670c4" />
<line x1="451.70" y1="431.55" x2="451.70" y2="434.82" stroke="#3a3a3a" stroke-width="1" />
<line x1="449.10" y1="431.55" x2="454.30" y2="431.55" stroke="#3a3a3a" stroke-width="1.2" />
<line x1="449.10" y1="434.82" x2="454.30" y2="434.82" stroke="#3a3a3a" stroke-width="1.2" />
<rect x="466.85" y="424.68" width="7.50" height="11.12" fill="#1670c4" />
<line x1="470.60" y1="422.39" x2="470.60" y2="426.97" stroke="#3a3a3a" stroke-width="1" />
<line x1="468.00" y1="422.39" x2="473.20" y2="422.39" stroke="#3a3a3a" stroke-width="1.2" />
<line x1="468.00" y1="426.97" x2="473.20" y2="426.97" stroke="#3a3a3a" stroke-width="1.2" />
<rect x="485.85" y="420.10" width="7.50" height="15.70" fill="#d40000" />
<line x1="489.60" y1="417.81" x2="489.60" y2="421.41" stroke="#3a3a3a" stroke-width="1" />
<line x1="487.00" y1="417.81" x2="492.20" y2="417.81" stroke="#3a3a3a" stroke-width="1.2" />
<line x1="487.00" y1="421.41" x2="492.20" y2="421.41" stroke="#3a3a3a" stroke-width="1.2" />
<rect x="505.05" y="394.60" width="7.50" height="41.20" fill="#d40000" />
<line x1="508.80" y1="386.75" x2="508.80" y2="402.45" stroke="#3a3a3a" stroke-width="1" />
<line x1="506.20" y1="386.75" x2="511.40" y2="386.75" stroke="#3a3a3a" stroke-width="1.2" />
<line x1="506.20" y1="402.45" x2="511.40" y2="402.45" stroke="#3a3a3a" stroke-width="1.2" />
<text transform="translate(373.60,354.60) rotate(-90)" font-size="10.4" text-anchor="middle" fill="#222">Migration (%)</text>
<text x="2.80" y="451.70" font-size="9.4" text-anchor="start" font-weight="normal" fill="#111" >SDF-1α</text>
<text x="2.80" y="463.00" font-size="9.4" text-anchor="start" font-weight="normal" fill="#111" >Cinacalcet</text>
<line x1="55.50" y1="449.10" x2="61.10" y2="449.10" stroke="#1a1a1a" stroke-width="1.3" />
<line x1="55.50" y1="460.10" x2="61.10" y2="460.10" stroke="#1a1a1a" stroke-width="1.3" />
<line x1="74.40" y1="449.10" x2="80.00" y2="449.10" stroke="#1a1a1a" stroke-width="1.3" />
<line x1="74.80" y1="459.40" x2="79.60" y2="459.40" stroke="#1a1a1a" stroke-width="1.25" />
<line x1="77.20" y1="457.00" x2="77.20" y2="461.80" stroke="#1a1a1a" stroke-width="1.25" />
<line x1="93.40" y1="448.40" x2="98.20" y2="448.40" stroke="#1a1a1a" stroke-width="1.25" />
<line x1="95.80" y1="446.00" x2="95.80" y2="450.80" stroke="#1a1a1a" stroke-width="1.25" />
<line x1="93.00" y1="460.10" x2="98.60" y2="460.10" stroke="#1a1a1a" stroke-width="1.3" />
<line x1="112.70" y1="448.40" x2="117.50" y2="448.40" stroke="#1a1a1a" stroke-width="1.25" />
<line x1="115.10" y1="446.00" x2="115.10" y2="450.80" stroke="#1a1a1a" stroke-width="1.25" />
<line x1="112.70" y1="459.40" x2="117.50" y2="459.40" stroke="#1a1a1a" stroke-width="1.25" />
<line x1="115.10" y1="457.00" x2="115.10" y2="461.80" stroke="#1a1a1a" stroke-width="1.25" />
<line x1="131.50" y1="448.40" x2="136.30" y2="448.40" stroke="#1a1a1a" stroke-width="1.25" />
<line x1="133.90" y1="446.00" x2="133.90" y2="450.80" stroke="#1a1a1a" stroke-width="1.25" />
<line x1="131.10" y1="460.10" x2="136.70" y2="460.10" stroke="#1a1a1a" stroke-width="1.3" />
<line x1="150.20" y1="448.40" x2="155.00" y2="448.40" stroke="#1a1a1a" stroke-width="1.25" />
<line x1="152.60" y1="446.00" x2="152.60" y2="450.80" stroke="#1a1a1a" stroke-width="1.25" />
<line x1="150.20" y1="459.40" x2="155.00" y2="459.40" stroke="#1a1a1a" stroke-width="1.25" />
<line x1="152.60" y1="457.00" x2="152.60" y2="461.80" stroke="#1a1a1a" stroke-width="1.25" />
<text x="182.20" y="452.40" font-size="9.4" text-anchor="start" font-weight="normal" fill="#111" >SDF-1α</text>
<text x="182.20" y="463.80" font-size="9.4" text-anchor="start" font-weight="normal" fill="#111" >Cinacalcet</text>
<line x1="234.60" y1="449.80" x2="240.20" y2="449.80" stroke="#1a1a1a" stroke-width="1.3" />
<line x1="234.60" y1="460.90" x2="240.20" y2="460.90" stroke="#1a1a1a" stroke-width="1.3" />
<line x1="253.70" y1="449.80" x2="259.30" y2="449.80" stroke="#1a1a1a" stroke-width="1.3" />
<line x1="254.10" y1="460.20" x2="258.90" y2="460.20" stroke="#1a1a1a" stroke-width="1.25" />
<line x1="256.50" y1="457.80" x2="256.50" y2="462.60" stroke="#1a1a1a" stroke-width="1.25" />
<line x1="273.20" y1="449.10" x2="278.00" y2="449.10" stroke="#1a1a1a" stroke-width="1.25" />
<line x1="275.60" y1="446.70" x2="275.60" y2="451.50" stroke="#1a1a1a" stroke-width="1.25" />
<line x1="272.80" y1="460.90" x2="278.40" y2="460.90" stroke="#1a1a1a" stroke-width="1.3" />
<line x1="292.10" y1="449.10" x2="296.90" y2="449.10" stroke="#1a1a1a" stroke-width="1.25" />
<line x1="294.50" y1="446.70" x2="294.50" y2="451.50" stroke="#1a1a1a" stroke-width="1.25" />
<line x1="292.10" y1="460.20" x2="296.90" y2="460.20" stroke="#1a1a1a" stroke-width="1.25" />
<line x1="294.50" y1="457.80" x2="294.50" y2="462.60" stroke="#1a1a1a" stroke-width="1.25" />
<line x1="311.00" y1="449.10" x2="315.80" y2="449.10" stroke="#1a1a1a" stroke-width="1.25" />
<line x1="313.40" y1="446.70" x2="313.40" y2="451.50" stroke="#1a1a1a" stroke-width="1.25" />
<line x1="310.60" y1="460.90" x2="316.20" y2="460.90" stroke="#1a1a1a" stroke-width="1.3" />
<line x1="329.90" y1="449.10" x2="334.70" y2="449.10" stroke="#1a1a1a" stroke-width="1.25" />
<line x1="332.30" y1="446.70" x2="332.30" y2="451.50" stroke="#1a1a1a" stroke-width="1.25" />
<line x1="329.90" y1="460.20" x2="334.70" y2="460.20" stroke="#1a1a1a" stroke-width="1.25" />
<line x1="332.30" y1="457.80" x2="332.30" y2="462.60" stroke="#1a1a1a" stroke-width="1.25" />
<text x="357.40" y="452.40" font-size="9.4" text-anchor="start" font-weight="normal" fill="#111" >SDF-1α</text>
<text x="357.40" y="463.20" font-size="9.4" text-anchor="start" font-weight="normal" fill="#111" >Cinacalcet</text>
<line x1="411.10" y1="449.80" x2="416.70" y2="449.80" stroke="#1a1a1a" stroke-width="1.3" />
<line x1="411.10" y1="460.30" x2="416.70" y2="460.30" stroke="#1a1a1a" stroke-width="1.3" />
<line x1="430.20" y1="449.80" x2="435.80" y2="449.80" stroke="#1a1a1a" stroke-width="1.3" />
<line x1="430.60" y1="459.60" x2="435.40" y2="459.60" stroke="#1a1a1a" stroke-width="1.25" />
<line x1="433.00" y1="457.20" x2="433.00" y2="462.00" stroke="#1a1a1a" stroke-width="1.25" />
<line x1="449.30" y1="449.10" x2="454.10" y2="449.10" stroke="#1a1a1a" stroke-width="1.25" />
<line x1="451.70" y1="446.70" x2="451.70" y2="451.50" stroke="#1a1a1a" stroke-width="1.25" />
<line x1="448.90" y1="460.30" x2="454.50" y2="460.30" stroke="#1a1a1a" stroke-width="1.3" />
<line x1="468.20" y1="449.10" x2="473.00" y2="449.10" stroke="#1a1a1a" stroke-width="1.25" />
<line x1="470.60" y1="446.70" x2="470.60" y2="451.50" stroke="#1a1a1a" stroke-width="1.25" />
<line x1="468.20" y1="459.60" x2="473.00" y2="459.60" stroke="#1a1a1a" stroke-width="1.25" />
<line x1="470.60" y1="457.20" x2="470.60" y2="462.00" stroke="#1a1a1a" stroke-width="1.25" />
<line x1="487.20" y1="449.10" x2="492.00" y2="449.10" stroke="#1a1a1a" stroke-width="1.25" />
<line x1="489.60" y1="446.70" x2="489.60" y2="451.50" stroke="#1a1a1a" stroke-width="1.25" />
<line x1="486.80" y1="460.30" x2="492.40" y2="460.30" stroke="#1a1a1a" stroke-width="1.3" />
<line x1="506.40" y1="449.10" x2="511.20" y2="449.10" stroke="#1a1a1a" stroke-width="1.25" />
<line x1="508.80" y1="446.70" x2="508.80" y2="451.50" stroke="#1a1a1a" stroke-width="1.25" />
<line x1="506.40" y1="459.60" x2="511.20" y2="459.60" stroke="#1a1a1a" stroke-width="1.25" />
<line x1="508.80" y1="457.20" x2="508.80" y2="462.00" stroke="#1a1a1a" stroke-width="1.25" />
<text x="32.00" y="504.50" font-size="16.5" text-anchor="start" font-weight="bold" fill="#000" >C</text>
<line x1="98.00" y1="518.76" x2="98.00" y2="658.00" stroke="#959595" stroke-width="1" />
<line x1="98.00" y1="654.20" x2="266.00" y2="654.20" stroke="#959595" stroke-width="1" />
<line x1="98.00" y1="654.20" x2="98.00" y2="658.00" stroke="#959595" stroke-width="1" />
<line x1="182.00" y1="654.20" x2="182.00" y2="658.00" stroke="#959595" stroke-width="1" />
<line x1="266.00" y1="654.20" x2="266.00" y2="658.00" stroke="#959595" stroke-width="1" />
<line x1="95.20" y1="654.20" x2="98.00" y2="654.20" stroke="#959595" stroke-width="1" />
<text x="88.70" y="657.70" font-size="10" text-anchor="end" font-weight="normal" fill="#222" >0</text>
<line x1="95.20" y1="637.27" x2="98.00" y2="637.27" stroke="#959595" stroke-width="1" />
<text x="88.70" y="640.77" font-size="10" text-anchor="end" font-weight="normal" fill="#222" >5</text>
<line x1="95.20" y1="620.34" x2="98.00" y2="620.34" stroke="#959595" stroke-width="1" />
<text x="88.70" y="623.84" font-size="10" text-anchor="end" font-weight="normal" fill="#222" >10</text>
<line x1="95.20" y1="603.41" x2="98.00" y2="603.41" stroke="#959595" stroke-width="1" />
<text x="88.70" y="606.91" font-size="10" text-anchor="end" font-weight="normal" fill="#222" >15</text>
<line x1="95.20" y1="586.48" x2="98.00" y2="586.48" stroke="#959595" stroke-width="1" />
<text x="88.70" y="589.98" font-size="10" text-anchor="end" font-weight="normal" fill="#222" >20</text>
<line x1="95.20" y1="569.55" x2="98.00" y2="569.55" stroke="#959595" stroke-width="1" />
<text x="88.70" y="573.05" font-size="10" text-anchor="end" font-weight="normal" fill="#222" >25</text>
<line x1="95.20" y1="552.62" x2="98.00" y2="552.62" stroke="#959595" stroke-width="1" />
<text x="88.70" y="556.12" font-size="10" text-anchor="end" font-weight="normal" fill="#222" >30</text>
<line x1="95.20" y1="535.69" x2="98.00" y2="535.69" stroke="#959595" stroke-width="1" />
<text x="88.70" y="539.19" font-size="10" text-anchor="end" font-weight="normal" fill="#222" >35</text>
<line x1="95.20" y1="518.76" x2="98.00" y2="518.76" stroke="#959595" stroke-width="1" />
<text x="88.70" y="522.26" font-size="10" text-anchor="end" font-weight="normal" fill="#222" >40</text>
<text transform="translate(68.5,586.7) rotate(-90)" font-size="10.3" text-anchor="middle" fill="#222">% labeled cells</text>
<rect x="116.00" y="593.25" width="23.90" height="60.95" fill="#d7d7d7" />
<line x1="127.95" y1="591.73" x2="127.95" y2="594.78" stroke="#222" stroke-width="1" />
<line x1="125.45" y1="591.73" x2="130.45" y2="591.73" stroke="#222" stroke-width="1.1" />
<line x1="125.45" y1="594.78" x2="130.45" y2="594.78" stroke="#222" stroke-width="1.1" />
<rect x="139.90" y="589.87" width="23.80" height="64.33" fill="#575757" />
<line x1="151.80" y1="585.46" x2="151.80" y2="594.27" stroke="#222" stroke-width="1" />
<line x1="149.30" y1="585.46" x2="154.30" y2="585.46" stroke="#222" stroke-width="1.1" />
<line x1="149.30" y1="594.27" x2="154.30" y2="594.27" stroke="#222" stroke-width="1.1" />
<rect x="200.00" y="594.27" width="24.00" height="59.93" fill="#d7d7d7" />
<line x1="212.00" y1="591.73" x2="212.00" y2="596.81" stroke="#222" stroke-width="1" />
<line x1="209.50" y1="591.73" x2="214.50" y2="591.73" stroke="#222" stroke-width="1.1" />
<line x1="209.50" y1="596.81" x2="214.50" y2="596.81" stroke="#222" stroke-width="1.1" />
<rect x="224.00" y="594.95" width="24.00" height="59.26" fill="#575757" />
<line x1="236.00" y1="594.27" x2="236.00" y2="595.62" stroke="#222" stroke-width="1" />
<line x1="233.50" y1="594.27" x2="238.50" y2="594.27" stroke="#222" stroke-width="1.1" />
<line x1="233.50" y1="595.62" x2="238.50" y2="595.62" stroke="#222" stroke-width="1.1" />
<text x="140.00" y="674.50" font-size="10.1" text-anchor="middle" font-weight="normal" fill="#111" >Control</text>
<text x="223.40" y="674.50" font-size="10.1" text-anchor="middle" font-weight="normal" fill="#111" >Cinacalcet +</text>
<text x="224.00" y="686.30" font-size="10.1" text-anchor="middle" font-weight="normal" fill="#111" >AMD3100</text>
<rect x="282.50" y="591.50" width="5.00" height="5.50" fill="#d7d7d7" />
<rect x="282.50" y="609.30" width="5.00" height="5.50" fill="#575757" />
<text x="288.80" y="598.30" font-size="10.6" text-anchor="start" font-weight="normal" fill="#222" >Femur</text>
<text x="288.80" y="616.00" font-size="10.6" text-anchor="start" font-weight="normal" fill="#222" >Tibia</text>
</svg>
</body></html>
